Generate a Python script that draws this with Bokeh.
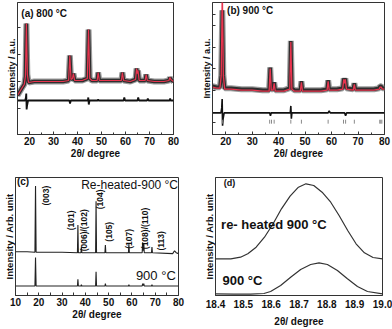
import math
from bokeh.plotting import figure
from bokeh.layouts import column, row
from bokeh.models import Range1d, FixedTicker, Label
from bokeh.embed import file_html
from bokeh.resources import INLINE

FONT = "Liberation Sans"

# ---------------- data ----------------
# (a) 800 °C : observed / calculated profile (2θ, intensity a.u.)
a_2theta = [15, 16, 17, 17.8, 18.3, 18.7, 19.1, 19.6, 22, 26, 30, 34, 36.3, 36.8, 37.3, 37.9, 38.3, 38.8,
            42, 44.1, 44.6, 45.1, 46, 48.2, 48.6, 49.1, 52, 56, 58.3, 58.7, 59.2, 62, 64.2, 64.6, 64.9,
            65.2, 65.7, 68.2, 68.6, 69.1, 72, 76, 78.1, 78.5, 78.9, 80]
a_int = [39, 43, 47, 50, 58, 111, 60, 52, 53, 53, 53, 53, 54, 79, 55, 56, 61, 54,
         54, 56, 105, 56, 54, 54, 62, 54, 54, 54, 54, 62, 54, 53, 55, 66, 61,
         64, 54, 54, 60, 54, 53, 53, 54, 57, 55, 53]
a_diff_2theta = [15, 18.2, 18.5, 18.65, 18.8, 19.0, 19.4, 30, 36.6, 36.9, 37.2, 44.3, 44.5, 44.7, 45.0,
                 48.4, 48.6, 48.8, 59.2, 59.5, 59.8, 65.0, 65.3, 65.6, 69.0, 69.3, 69.6, 78.4, 78.6, 78.8, 80]
a_diff = [34, 34, 37, 41, 25, 29, 34, 34, 34, 31, 34, 34, 37, 30, 34,
          34, 35, 34, 34, 37, 34, 34, 37, 34, 34, 36, 34, 34, 36, 34, 34]
a_yticks = [26, 53, 80, 107]

# (b) 900 °C : observed / calculated profile, difference, Bragg positions
b_2theta = [15, 16.5, 17.8, 18.3, 18.7, 19.1, 19.6, 22, 26, 30, 34, 36.4, 36.8, 37.2, 37.9, 38.3, 38.7,
            42, 44.2, 44.6, 45.0, 46, 48.2, 48.6, 49.0, 52, 56, 58.3, 58.7, 59.1, 62, 64.2, 64.6, 64.9,
            65.2, 65.6, 68.2, 68.6, 69.0, 72, 76, 78.0, 78.3, 78.8, 79.2, 80]
b_obs = [49, 48, 48, 60, 126, 60, 47, 47, 46, 46, 45, 45, 68, 46, 46, 53, 45,
         45, 47, 95, 47, 45, 45, 54, 45, 45, 45, 46, 55, 46, 46, 47, 57, 53,
         57, 47, 46, 52, 46, 46, 46, 47, 49, 49, 47, 47]
b_calc = [48, 47, 47, 60, 150, 60, 46, 46, 45, 45, 44, 44, 67, 45, 45, 52, 44,
          44, 46, 94, 46, 44, 44, 53, 44, 44, 44, 45, 54, 45, 45, 46, 56, 52,
          56, 46, 45, 51, 45, 45, 45, 46, 48, 48, 46, 46]
b_diff_2theta = [15, 18.2, 18.5, 18.65, 18.8, 19.0, 19.4, 30, 36.6, 36.9, 37.2, 44.4, 44.6, 44.8, 45.0,
                 58.7, 59.1, 59.5, 64.9, 65.3, 65.7, 80]
b_diff = [22, 22, 27, 36, 9, 16, 22, 22, 22, 19, 22, 22, 29, 16, 22, 22, 24, 22, 22, 19, 22, 22]
b_bragg = [18.7, 36.6, 37.3, 38.3, 44.6, 48.6, 58.7, 64.5, 65.3, 68.6, 78.2, 78.6, 79.0]
b_yticks = [12, 45, 67, 88, 111, 122]

# (c) full patterns: re-heated 900 °C (top) and 900 °C (bottom)
c_2theta_top = [10, 15, 18.35, 18.6, 18.85, 25, 30, 36.6, 36.8, 37.0, 38.1, 38.3, 38.5, 44.4, 44.6, 44.8,
                48.4, 48.6, 48.8, 58.5, 58.7, 58.9, 64.4, 64.6, 64.8, 65.1, 65.3, 68.4, 68.6, 68.8,
                77.5, 78.3, 79, 80]
c_int_top = [46, 46, 45.5, 115, 45.5, 45.5, 45.5, 45, 74, 45, 45, 51, 45, 45, 99, 45,
             45, 53, 45, 45, 54, 45, 45, 56, 47, 55, 45, 45, 51, 45,
             44, 47, 45, 44]
c_2theta_bot = [10, 18.35, 18.6, 18.85, 36.6, 36.8, 37.0, 38.1, 38.3, 38.5, 44.4, 44.6, 44.8, 48.4, 48.6,
                48.8, 58.5, 58.7, 58.9, 64.4, 64.6, 64.8, 65.1, 65.3, 68.4, 68.6, 68.8, 80]
c_int_bot = [10, 10, 40, 10, 10, 17, 10, 10, 11.5, 10, 10, 25, 10, 10, 12.5,
             10, 10, 11.5, 10, 10, 12.5, 10.5, 12.5, 10, 10, 11.5, 10, 10]
c_hkl = ["(003)", "(101)", "(006)/(102)", "(104)", "(105)", "(107)", "(108)/(110)", "(113)"]
c_xticks = [10, 20, 30, 40, 50, 60, 70, 80]

# (d) (003) peak detail
d_2theta_top = [18.40, 18.455, 18.49, 18.516, 18.546, 18.576, 18.607, 18.637, 18.668, 18.698, 18.725,
                18.753, 18.783, 18.814, 18.844, 18.875, 18.905, 18.935, 18.966, 19.0]
d_int_top = [36.7, 36.7, 38.3, 41.7, 48.3, 58.3, 71.7, 86.7, 99.3, 108.3, 111.7,
             110, 103.3, 93.3, 80, 65, 51.7, 42.7, 38, 36.7]
d_2theta_bot = [18.40, 18.466, 18.526, 18.574, 18.598, 18.634, 18.67, 18.706, 18.742, 18.772, 18.802,
                18.838, 18.874, 18.91, 18.946, 19.0]
d_int_bot = [1.7, 1.3, 1.3, 2, 4, 10, 18.3, 26, 31, 32.7, 31, 25, 16.7, 9, 4, 1.7]
d_xticks = [18.4, 18.5, 18.6, 18.7, 18.8, 18.9, 19.0]
d_xlabels = ["18.4", "18.5", "18.6", "18.7", "18.8", "18.9", "19.0"]

XLABEL = "2θ/ degree"


def make_fig(w, h, xr, yr, bl, br, bt, bb, ylabel, tick_size="10px", xlab_size="10px", ylab_size="9px"):
    p = figure(width=w, height=h, x_range=Range1d(*xr), y_range=Range1d(*yr),
               output_backend="svg", toolbar_location=None,
               min_border_left=bl, min_border_right=br, min_border_top=bt, min_border_bottom=bb)
    p.grid.visible = False
    p.outline_line_color = "#333333"
    p.outline_line_width = 1
    p.background_fill_color = "white"
    p.border_fill_color = "white"
    for ax in (p.xaxis[0], p.yaxis[0]):
        ax.axis_line_color = "#333333"
        ax.major_tick_line_color = "#333333"
        ax.minor_tick_line_color = "#333333"
        ax.major_label_text_font = FONT
        ax.major_label_text_font_style = "bold"
        ax.major_label_text_color = "#111111"
        ax.axis_label_text_font = FONT
        ax.axis_label_text_font_style = "bold"
        ax.axis_label_text_color = "#111111"
    xa = p.xaxis[0]
    xa.axis_label = XLABEL
    xa.axis_label_text_font_size = xlab_size
    xa.major_label_text_font_size = tick_size
    xa.axis_label_standoff = 0
    xa.major_label_standoff = 2
    ya = p.yaxis[0]
    ya.axis_label = ylabel
    ya.axis_label_text_font_size = ylab_size
    ya.major_label_text_font_size = "1px"
    ya.major_label_text_color = None
    ya.major_label_standoff = 0
    ya.axis_label_standoff = 1
    ya.minor_tick_line_color = None
    ya.major_tick_out = 0
    ya.major_tick_in = 0
    return p


def label(p, x, y, text, size, bold=True, align="left", angle=0.0):
    p.add_layout(Label(x=x, y=y, text=text, angle=angle, text_font=FONT,
                       text_font_style="bold" if bold else "normal", text_font_size=size,
                       text_align=align, text_baseline="middle", text_color="#111111"))


# ---------------- (a) ----------------
pa = make_fig(196, 165, (15, 80), (0, 132), 17, 23, 2, 31, "Intensity / a.u.")
pa.xaxis.ticker = FixedTicker(ticks=[20, 30, 40, 50, 60, 70, 80], minor_ticks=[15, 25, 35, 45, 55, 65, 75])
pa.xaxis.major_tick_in = 3
pa.xaxis.major_tick_out = 0
pa.xaxis.minor_tick_in = 2
pa.xaxis.minor_tick_out = 0
pa.yaxis.ticker = FixedTicker(ticks=a_yticks)
pa.yaxis.major_tick_in = 3
pa.line(a_2theta, a_int, line_color="#9a9a9a", line_width=6)
pa.line(a_2theta, a_int, line_color="#2e2e2e", line_width=3.5)
pa.line(a_2theta, a_int, line_color="#e8344e", line_width=1.2)
pa.line(a_diff_2theta, a_diff, line_color="#111111", line_width=1.8)
label(pa, 16.6, 121, "(a) 800 °C", "10px")

# ---------------- (b) ----------------
pb = make_fig(196, 165, (15, 80), (0, 134), 16, 8, 1, 30, "Intensity / a.u.")
pb.xaxis.ticker = FixedTicker(ticks=[20, 30, 40, 50, 60, 70, 80], minor_ticks=[15, 25, 35, 45, 55, 65, 75])
pb.xaxis.major_tick_in = 3
pb.xaxis.major_tick_out = 0
pb.xaxis.minor_tick_in = 2
pb.xaxis.minor_tick_out = 0
pb.yaxis.ticker = FixedTicker(ticks=b_yticks)
pb.yaxis.major_tick_in = 3
pb.line(b_2theta, b_obs, line_color="#9a9a9a", line_width=6)
pb.line(b_2theta, b_obs, line_color="#2e2e2e", line_width=3.5)
pb.line(b_2theta, b_calc, line_color="#e8344e", line_width=1.3)
pb.line(b_diff_2theta, b_diff, line_color="#111111", line_width=1.6)
pb.segment(x0=b_bragg, y0=[11] * len(b_bragg), x1=b_bragg, y1=[15] * len(b_bragg),
           line_color="#8a8a8a", line_width=1)
label(pb, 20.5, 126, "(b) 900 °C", "10px")

# ---------------- (c) ----------------
pc = make_fig(196, 164, (10, 80), (0, 124), 14, 18, 12, 28, "Intensity / Arb. unit", ylab_size="9.5px")
pc.xaxis.ticker = FixedTicker(ticks=c_xticks, minor_ticks=[15, 25, 35, 45, 55, 65, 75])
pc.xaxis.major_tick_in = 3
pc.xaxis.major_tick_out = 0
pc.xaxis.minor_tick_in = 3
pc.xaxis.minor_tick_out = 0
pc.yaxis.ticker = FixedTicker(ticks=[])
pc.line(c_2theta_top, c_int_top, line_color="#222222", line_width=1.1)
pc.line(c_2theta_bot, c_int_bot, line_color="#222222", line_width=1.1)
hkl_x = [23.2, 33.9, 39.5, 46.5, 50.0, 58.8, 65.6, 72.4]
hkl_y = [105, 79, 68.5, 101, 67, 59.5, 70.5, 57.5]
for t, x, y in zip(c_hkl, hkl_x, hkl_y):
    label(pc, x, y, t, "8.5px", align="center", angle=math.pi / 2)
label(pc, 10.6, 120, "(c)", "10px")
label(pc, 79.8, 116, "Re-heated-900 °C", "12px", bold=False, align="right")
label(pc, 61.7, 21, "900 °C", "13px", bold=False)

# ---------------- (d) ----------------
pd_ = make_fig(196, 164, (18.4, 19.0), (0, 118), 19, 10, 12, 34, "Intensity / Arb. unit", ylab_size="9.5px")
pd_.xaxis.ticker = FixedTicker(ticks=d_xticks)
pd_.xaxis.major_label_overrides = {t: s for t, s in zip(d_xticks, d_xlabels)}
pd_.xaxis.major_tick_in = 0
pd_.xaxis.major_tick_out = 0
pd_.xaxis.major_label_standoff = 4
pd_.xaxis.axis_label_standoff = 5
pd_.xaxis.minor_tick_line_color = None
pd_.yaxis.ticker = FixedTicker(ticks=[])
pd_.line(d_2theta_top, d_int_top, line_color="#333333", line_width=1.2)
pd_.line(d_2theta_bot, d_int_bot, line_color="#333333", line_width=1.2)
label(pd_, 18.43, 113, "(d)", "9px")
label(pd_, 18.42, 71, "re- heated 900 °C", "13px")
label(pd_, 18.425, 15, "900 °C", "13px")

layout = column(row(pa, pb), row(pc, pd_))
open("out.html", "w").write(file_html(layout, INLINE))
